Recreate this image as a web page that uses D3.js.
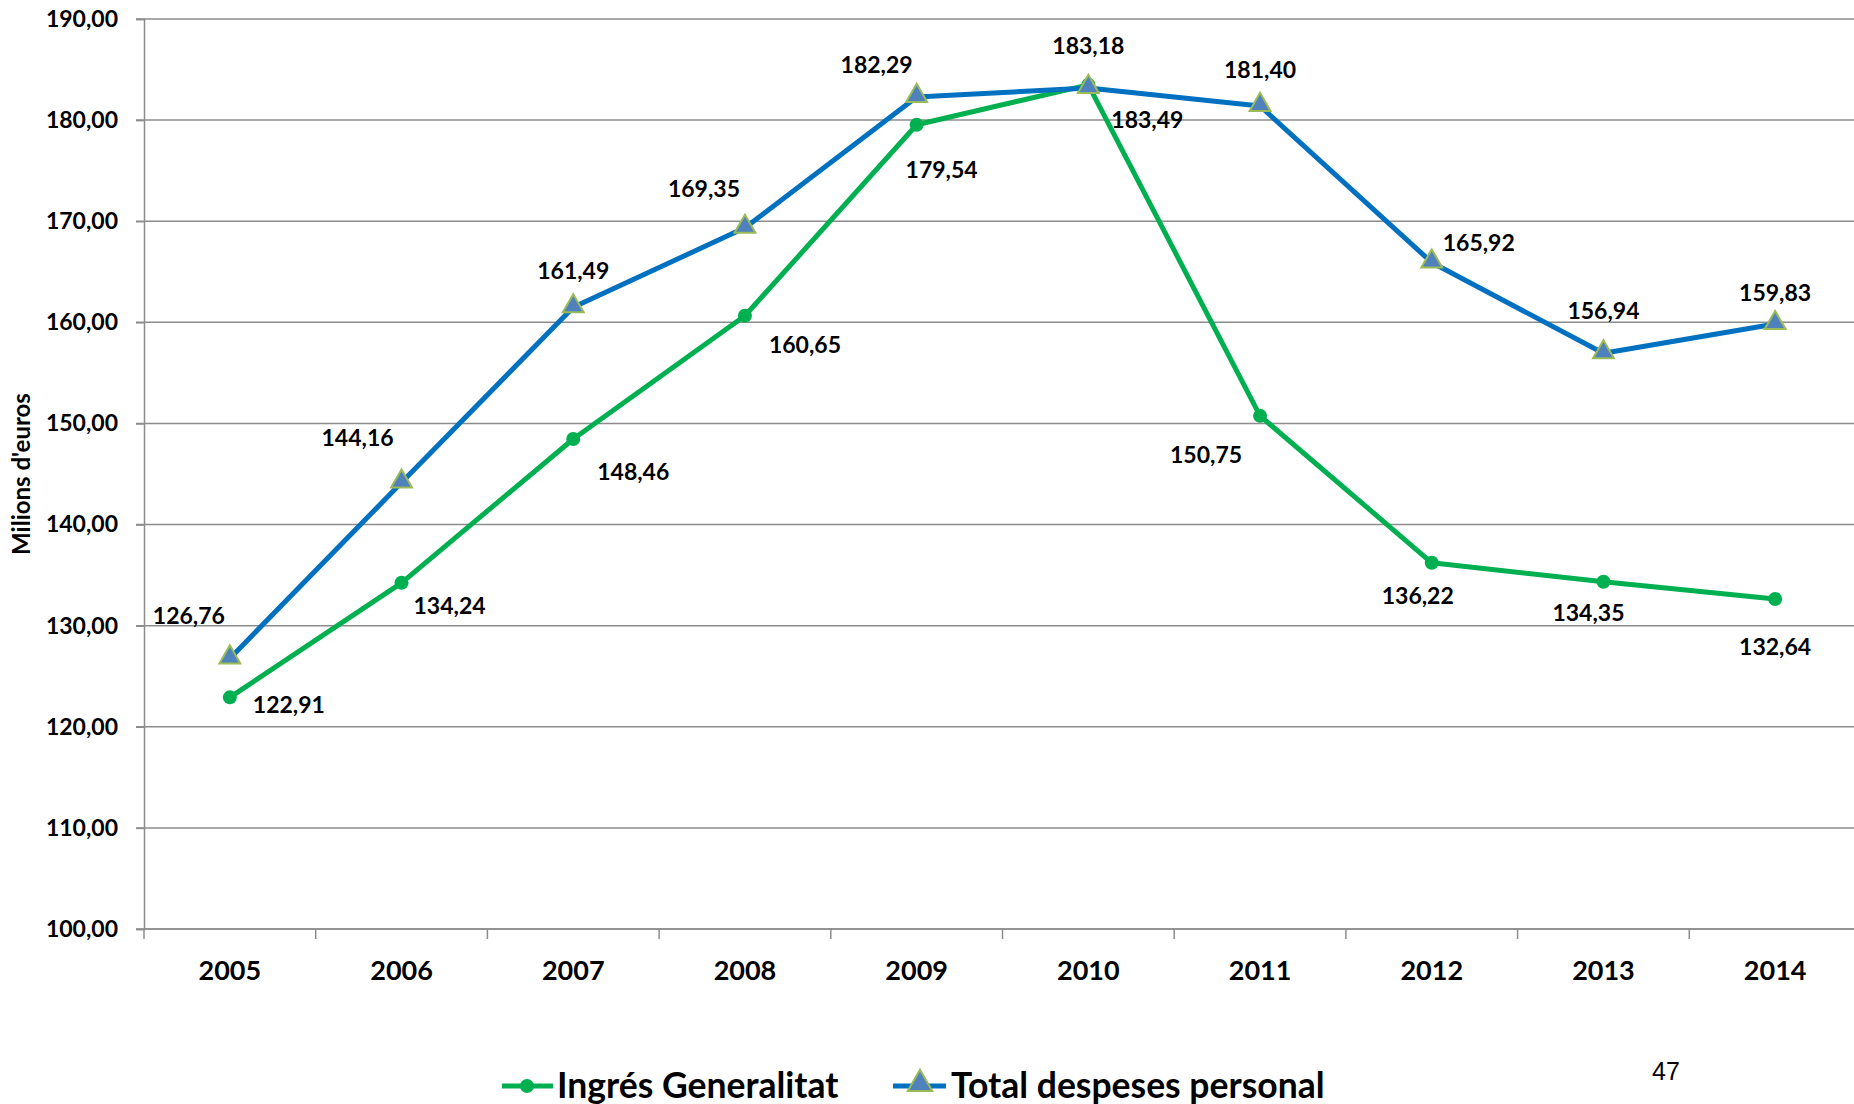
<!DOCTYPE html>
<html>
<head>
<meta charset="utf-8">
<script src="https://cdn.jsdelivr.net/npm/d3@7"></script>
<style>
  body { margin: 0; background: #fff; }
  text { font-family: Lato, "Open Sans", sans-serif; font-weight: bold; fill: #000; }
</style>
</head>
<body>
<script>

// chart data
var years = ['2005', '2006', '2007', '2008', '2009', '2010', '2011', '2012', '2013', '2014'];
var ingres = [122.91, 134.24, 148.46, 160.65, 179.54, 183.49, 150.75, 136.22, 134.35, 132.64];
var despeses = [126.76, 144.16, 161.49, 169.35, 182.29, 183.18, 181.40, 165.92, 156.94, 159.83];
var yTicks = [100, 110, 120, 130, 140, 150, 160, 170, 180, 190];

// where each data label sits relative to its point (px, label centre)
var ingresOffsets = [[59, 7], [48, 22], [60, 32], [60, 28], [25, 44], [59, 34], [-54, 38], [-14, 32], [-15, 30], [0, 47]];
var despesesOffsets = [[-41, -43], [-44, -45], [0, -37], [-41, -40], [-40, -33], [0, -43], [0, -37], [47, -20], [0, -43], [0, -32]];

var green = '#00b050', blue = '#0070c0', grid = '#8c8c8c';

var width = 1854, height = 1104;
var plotLeft = 144, plotRight = 1861, plotTop = 19, plotBottom = 929;

var svg = d3.select('body').append('svg')
  .attr('width', width)
  .attr('height', height);

var x = d3.scaleBand().domain(years).range([plotLeft, plotRight]);
var y = d3.scaleLinear().domain([100, 190]).range([plotBottom, plotTop]);
var cx = function(d, i) { return x(years[i]) + x.bandwidth() / 2; };

var fmt = function(v) { return v.toFixed(2).replace('.', ','); };

// horizontal gridlines
svg.append('g').selectAll('line')
  .data(yTicks)
  .enter().append('line')
  .attr('x1', plotLeft - 8)
  .attr('x2', width)
  .attr('y1', function(d) { return y(d); })
  .attr('y2', function(d) { return y(d); })
  .attr('stroke', grid)
  .attr('stroke-width', 1.5);

// y axis
var yAxis = svg.append('g')
  .attr('transform', 'translate(' + plotLeft + ',0)')
  .call(d3.axisLeft(y).tickValues(yTicks).tickSize(8).tickPadding(18).tickFormat(fmt));
yAxis.select('.domain').attr('stroke', grid).attr('stroke-width', 1.5);
yAxis.selectAll('.tick line').attr('stroke', grid).attr('stroke-width', 1.5);
yAxis.selectAll('.tick text')
  .style('font-family', 'Lato, sans-serif')
  .style('font-weight', 'bold')
  .style('font-size', '23px')
  .attr('fill', '#000');

// x axis: labels at band centres, ticks at band edges
var xAxis = svg.append('g')
  .attr('transform', 'translate(0,' + plotBottom + ')')
  .call(d3.axisBottom(x).tickSize(0).tickPadding(32));
xAxis.select('.domain').remove();
xAxis.selectAll('.tick text')
  .style('font-family', 'Lato, sans-serif')
  .style('font-weight', 'bold')
  .style('font-size', '27px')
  .attr('fill', '#000');

svg.append('line')
  .attr('x1', plotLeft).attr('x2', width)
  .attr('y1', plotBottom).attr('y2', plotBottom)
  .attr('stroke', grid).attr('stroke-width', 1.5);

svg.append('g').selectAll('line')
  .data(years.concat(['end']))
  .enter().append('line')
  .attr('x1', function(d, i) { return plotLeft + i * x.bandwidth(); })
  .attr('x2', function(d, i) { return plotLeft + i * x.bandwidth(); })
  .attr('y1', plotBottom)
  .attr('y2', plotBottom + 10)
  .attr('stroke', grid)
  .attr('stroke-width', 1.5);

// axis title
svg.append('text')
  .attr('transform', 'translate(30,474) rotate(-90)')
  .attr('text-anchor', 'middle')
  .style('font-size', '24px')
  .text("Milions d'euros");

// lines
var line = d3.line()
  .x(function(d, i) { return cx(d, i); })
  .y(function(d) { return y(d); });

svg.append('path')
  .datum(ingres)
  .attr('d', line)
  .attr('fill', 'none')
  .attr('stroke', green)
  .attr('stroke-width', 5)
  .attr('stroke-linejoin', 'round');

svg.append('path')
  .datum(despeses)
  .attr('d', line)
  .attr('fill', 'none')
  .attr('stroke', blue)
  .attr('stroke-width', 5)
  .attr('stroke-linejoin', 'round');

// markers
var triangle = d3.symbol().type(d3.symbolTriangle).size(190);

svg.append('g').selectAll('circle')
  .data(ingres)
  .enter().append('circle')
  .attr('cx', cx)
  .attr('cy', function(d) { return y(d); })
  .attr('r', 7)
  .attr('fill', green);

svg.append('g').selectAll('path')
  .data(despeses)
  .enter().append('path')
  .attr('d', triangle)
  .attr('transform', function(d, i) { return 'translate(' + cx(d, i) + ',' + (y(d) - 1) + ')'; })
  .attr('fill', '#4f81bd')
  .attr('stroke', '#9bbb59')
  .attr('stroke-width', 2);

// data labels
svg.append('g').selectAll('text')
  .data(ingres)
  .enter().append('text')
  .attr('x', function(d, i) { return cx(d, i) + ingresOffsets[i][0]; })
  .attr('y', function(d, i) { return y(d) + ingresOffsets[i][1]; })
  .attr('text-anchor', 'middle')
  .attr('dominant-baseline', 'central')
  .style('font-size', '23px')
  .text(fmt);

svg.append('g').selectAll('text')
  .data(despeses)
  .enter().append('text')
  .attr('x', function(d, i) { return cx(d, i) + despesesOffsets[i][0]; })
  .attr('y', function(d, i) { return y(d) + despesesOffsets[i][1]; })
  .attr('text-anchor', 'middle')
  .attr('dominant-baseline', 'central')
  .style('font-size', '23px')
  .text(fmt);

// legend
var legend = svg.append('g').attr('transform', 'translate(0,1086)');

legend.append('line')
  .attr('x1', 502).attr('x2', 553).attr('y1', 0).attr('y2', 0)
  .attr('stroke', green).attr('stroke-width', 5);
legend.append('circle')
  .attr('cx', 527).attr('cy', 0).attr('r', 7).attr('fill', green);
legend.append('text')
  .attr('x', 557).attr('y', 12)
  .style('font-size', '35.5px')
  .text('Ingrés Generalitat');

legend.append('line')
  .attr('x1', 893).attr('x2', 946).attr('y1', 0).attr('y2', 0)
  .attr('stroke', blue).attr('stroke-width', 5);
legend.append('path')
  .attr('d', d3.symbol().type(d3.symbolTriangle).size(260))
  .attr('transform', 'translate(920,-2)')
  .attr('fill', '#4f81bd')
  .attr('stroke', '#9bbb59')
  .attr('stroke-width', 2);
legend.append('text')
  .attr('x', 951).attr('y', 12)
  .style('font-size', '35.5px')
  .text('Total despeses personal');

// page number
svg.append('text')
  .attr('x', 1652).attr('y', 1080)
  .style('font-family', '"Liberation Sans", Arial, sans-serif')
  .style('font-weight', 'normal')
  .style('font-size', '25px')
  .text('47');

</script>
</body>
</html>
